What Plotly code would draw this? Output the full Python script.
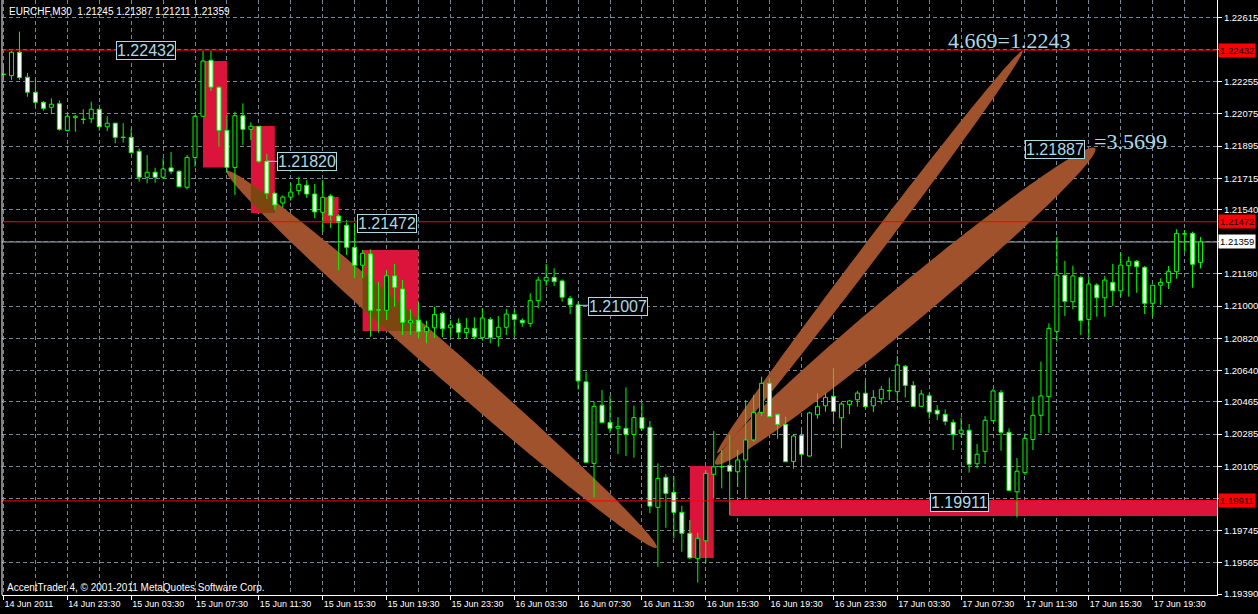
import math
import plotly.graph_objects as go

# ---------------- data (EURCHF, M30) ----------------
time_labels = ["14 Jun 2011", "14 Jun 23:30", "15 Jun 03:30", "15 Jun 07:30", "15 Jun 11:30",
               "15 Jun 15:30", "15 Jun 19:30", "15 Jun 23:30", "16 Jun 03:30", "16 Jun 07:30",
               "16 Jun 11:30", "16 Jun 15:30", "16 Jun 19:30", "16 Jun 23:30", "17 Jun 03:30",
               "17 Jun 07:30", "17 Jun 11:30", "17 Jun 15:30", "17 Jun 19:30"]

opens = [1.22298, 1.22289, 1.22420, 1.22280, 1.22196, 1.22140, 1.22112, 1.22132, 1.21983, 1.22054,
         1.22045, 1.22048, 1.22101, 1.22003, 1.22023, 1.21944, 1.21944, 1.21866, 1.21721, 1.21749,
         1.21721, 1.21773, 1.21754, 1.21665, 1.21832, 1.22062, 1.22375, 1.22224, 1.21983, 1.21776,
         1.22065, 1.21989, 1.22006, 1.21810, 1.21631, 1.21577, 1.21610, 1.21646, 1.21676, 1.21627,
         1.21525, 1.21616, 1.21504, 1.21452, 1.21329, 1.21229, 1.21292, 1.20979, 1.20977, 1.21169,
         1.21096, 1.20907, 1.20922, 1.20857, 1.20879, 1.20960, 1.20879, 1.20904, 1.20852, 1.20876,
         1.20824, 1.20926, 1.20829, 1.20882, 1.20954, 1.20921, 1.20904, 1.21031, 1.21142, 1.21161,
         1.21141, 1.21044, 1.21007, 1.20577, 1.20121, 1.20446, 1.20350, 1.20317, 1.20317, 1.20283,
         1.20377, 1.20323, 1.19875, 1.20043, 1.19959, 1.19847, 1.19730, 1.19588, 1.19688, 1.20060,
         1.20102, 1.20110, 1.20074, 1.20140, 1.20252, 1.20406, 1.20569, 1.20395, 1.20339, 1.20132,
         1.20278, 1.20162, 1.20393, 1.20443, 1.20496, 1.20376, 1.20451, 1.20477, 1.20513, 1.20443,
         1.20482, 1.20527, 1.20522, 1.20664, 1.20557, 1.20440, 1.20499, 1.20418, 1.20395, 1.20350,
         1.20289, 1.20306, 1.20119, 1.20188, 1.20360, 1.20518, 1.20295, 1.19962, 1.20069, 1.20255,
         1.20390, 1.20494, 1.20859, 1.21173, 1.21025, 1.21161, 1.20926, 1.21118, 1.21047, 1.21133,
         1.21086, 1.21226, 1.21251, 1.21217, 1.21016, 1.21117, 1.21133, 1.21193, 1.21404, 1.21407,
         1.21245]
highs = [1.22350, 1.22427, 1.22535, 1.22304, 1.22269, 1.22147, 1.22162, 1.22151, 1.22078, 1.22069,
         1.22101, 1.22143, 1.22105, 1.22063, 1.22023, 1.22023, 1.21992, 1.21883, 1.21845, 1.21774,
         1.21827, 1.21862, 1.21760, 1.21845, 1.22069, 1.22428, 1.22428, 1.22230, 1.22069, 1.22087,
         1.22134, 1.22028, 1.22006, 1.21851, 1.21640, 1.21620, 1.21689, 1.21724, 1.21705, 1.21683,
         1.21705, 1.21627, 1.21515, 1.21482, 1.21465, 1.21314, 1.21318, 1.21137, 1.21202, 1.21236,
         1.21146, 1.20982, 1.21022, 1.20919, 1.20997, 1.20969, 1.20922, 1.20932, 1.20934, 1.20938,
         1.20988, 1.20938, 1.20945, 1.20984, 1.20978, 1.20932, 1.21072, 1.21165, 1.21236, 1.21212,
         1.21150, 1.21057, 1.21025, 1.20633, 1.20468, 1.20531, 1.20498, 1.20380, 1.20546, 1.20443,
         1.20459, 1.20358, 1.20121, 1.20061, 1.20050, 1.19884, 1.19804, 1.19733, 1.20084, 1.20302,
         1.20196, 1.20280, 1.20196, 1.20475, 1.20503, 1.20606, 1.20597, 1.20400, 1.20382, 1.20285,
         1.20317, 1.20410, 1.20513, 1.20513, 1.20653, 1.20466, 1.20475, 1.20527, 1.20583, 1.20531,
         1.20554, 1.20600, 1.20721, 1.20671, 1.20581, 1.20531, 1.20513, 1.20447, 1.20423, 1.20367,
         1.20377, 1.20341, 1.20229, 1.20386, 1.20537, 1.20531, 1.20317, 1.20151, 1.20289, 1.20494,
         1.20690, 1.20904, 1.21388, 1.21253, 1.21226, 1.21170, 1.21165, 1.21128, 1.21169, 1.21236,
         1.21299, 1.21277, 1.21258, 1.21225, 1.21120, 1.21156, 1.21225, 1.21430, 1.21426, 1.21416,
         1.21387]
lows = [1.22265, 1.22265, 1.22265, 1.22171, 1.22112, 1.22093, 1.22073, 1.21981, 1.21978, 1.21976,
        1.22019, 1.22024, 1.21981, 1.21979, 1.21911, 1.21914, 1.21855, 1.21696, 1.21687, 1.21690,
        1.21709, 1.21739, 1.21665, 1.21653, 1.21780, 1.22058, 1.22203, 1.21892, 1.21745, 1.21622,
        1.21901, 1.21929, 1.21800, 1.21600, 1.21540, 1.21550, 1.21590, 1.21622, 1.21605, 1.21493,
        1.21415, 1.21437, 1.21202, 1.21286, 1.21157, 1.21157, 1.20829, 1.20852, 1.20922, 1.20997,
        1.20839, 1.20839, 1.20820, 1.20792, 1.20822, 1.20826, 1.20829, 1.20815, 1.20822, 1.20815,
        1.20807, 1.20792, 1.20773, 1.20839, 1.20829, 1.20885, 1.20885, 1.20988, 1.21113, 1.21113,
        1.21025, 1.20956, 1.20535, 1.20123, 1.19931, 1.20345, 1.20292, 1.20173, 1.20162, 1.20153,
        1.20307, 1.19842, 1.19543, 1.19761, 1.19702, 1.19627, 1.19586, 1.19454, 1.19562, 1.19925,
        1.19981, 1.19832, 1.19990, 1.19925, 1.20242, 1.20386, 1.20380, 1.20259, 1.20129, 1.20091,
        1.20130, 1.20158, 1.20371, 1.20410, 1.20345, 1.20205, 1.20397, 1.20438, 1.20430, 1.20408,
        1.20451, 1.20475, 1.20471, 1.20490, 1.20436, 1.20436, 1.20371, 1.20363, 1.20335, 1.20196,
        1.20267, 1.20069, 1.20093, 1.20117, 1.20355, 1.20192, 1.19966, 1.19819, 1.20056, 1.20196,
        1.20289, 1.20292, 1.20801, 1.20945, 1.20982, 1.20839, 1.20826, 1.20941, 1.20941, 1.21001,
        1.21053, 1.21053, 1.21075, 1.20956, 1.20941, 1.21007, 1.21096, 1.21154, 1.21305, 1.21103,
        1.21211]
closes = [1.22295, 1.22420, 1.22278, 1.22196, 1.22140, 1.22106, 1.22129, 1.21989, 1.22062, 1.22062,
          1.22045, 1.22101, 1.22003, 1.22023, 1.21944, 1.21944, 1.21858, 1.21721, 1.21749, 1.21721,
          1.21767, 1.21754, 1.21668, 1.21832, 1.22062, 1.22371, 1.22225, 1.21983, 1.21776, 1.22065,
          1.21989, 1.22006, 1.21810, 1.21631, 1.21566, 1.21610, 1.21638, 1.21681, 1.21627, 1.21527,
          1.21609, 1.21508, 1.21467, 1.21329, 1.21229, 1.21296, 1.20977, 1.20979, 1.21170, 1.21106,
          1.20910, 1.20921, 1.20857, 1.20883, 1.20954, 1.20874, 1.20895, 1.20854, 1.20876, 1.20829,
          1.20934, 1.20824, 1.20882, 1.20956, 1.20926, 1.20907, 1.21031, 1.21146, 1.21161, 1.21137,
          1.21050, 1.21007, 1.20582, 1.20127, 1.20440, 1.20350, 1.20317, 1.20328, 1.20283, 1.20377,
          1.20317, 1.19882, 1.20037, 1.19953, 1.19847, 1.19730, 1.19593, 1.19702, 1.20065, 1.20102,
          1.20102, 1.20077, 1.20140, 1.20252, 1.20406, 1.20569, 1.20382, 1.20339, 1.20130, 1.20274,
          1.20172, 1.20403, 1.20440, 1.20490, 1.20412, 1.20453, 1.20470, 1.20514, 1.20438, 1.20490,
          1.20535, 1.20527, 1.20671, 1.20557, 1.20440, 1.20509, 1.20408, 1.20397, 1.20356, 1.20283,
          1.20307, 1.20116, 1.20172, 1.20362, 1.20526, 1.20295, 1.19970, 1.20077, 1.20261, 1.20390,
          1.20498, 1.20876, 1.21173, 1.21027, 1.21169, 1.20919, 1.21124, 1.21047, 1.21146, 1.21086,
          1.21230, 1.21251, 1.21221, 1.21016, 1.21117, 1.21133, 1.21195, 1.21407, 1.21404, 1.21234,
          1.21359]

ytick_vals = [1.19390, 1.19565, 1.19745, 1.19925, 1.20105, 1.20285, 1.20465, 1.20640, 1.20820,
              1.21000, 1.21180, 1.21360, 1.21540, 1.21715, 1.21895, 1.22075, 1.22255, 1.22435, 1.22615]
ytick_text = ["1.19390", "1.19565", "1.19745", "", "1.20105", "1.20285", "1.20465", "1.20640", "1.20820",
              "1.21000", "1.21180", "", "1.21540", "1.21715", "1.21895", "1.22075", "1.22255", "", "1.22615"]

# horizontal line objects and price labels
red_levels = [1.22432, 1.21472, 1.19911]
bid_price = 1.21359

# rectangle objects: (bar from, bar to, price low, price high)
rects = [(25, 28, 1.21776, 1.22371),
         (31, 34, 1.21521, 1.22007),
         (40, 42, 1.21465, 1.21610),
         (45, 52, 1.20861, 1.21314),
         (86, 89, 1.19592, 1.20106),
         (91, 160, 1.19827, 1.19916)]

# ellipse objects: (start bar, start price, end bar, end price, half-width px)
ellipses = [(28.0, 1.21755, 81.85, 1.19649, 15),
            (89.45, 1.20179, 127.7, 1.22428, 8.5),
            (89.2, 1.20117, 136.8, 1.21884, 19)]

# boxed price labels: (text, bar of left edge, price)
boxed_labels = [("1.22432", 14.06, 1.22430),
                ("1.21820", 34.3, 1.21810),
                ("1.21472", 44.3, 1.21465),
                ("1.21007", 73.3, 1.20998),
                ("1.21887", 128.06, 1.21876),
                ("1.19911", 116.06, 1.19902)]

# ---------------- geometry ----------------
W, H = 1258, 614
ML, MR, MT, MB = 2, 38, 0, 19
PW, PH = W - ML - MR, H - MT - MB
PX_BAR = 8.0
X0 = -1.5 / PX_BAR
X1 = X0 + PW / PX_BAR
Y0, Y1 = 1.19385, 1.22712
PX_PRICE = PH / (Y1 - Y0)

GREEN = "#00FF00"
CRIMSON = "#DC143C"
SIENNA = "#A0522D"
XOR_COL = "rgb(124,70,17)"
LBLUE = "#ADD8E6"
GRID = "#778899"

n = len(opens)
idx = list(range(n))

fig = go.Figure()

# wicks (drawn as upper and lower segments so hollow bodies stay black)
wx, wy = [], []
for i in idx:
    top = max(opens[i], closes[i])
    bot = min(opens[i], closes[i])
    wx += [i, i, None, i, i, None]
    wy += [highs[i], top, None, bot, lows[i], None]
fig.add_trace(go.Scatter(x=wx, y=wy, mode="lines", line=dict(color=GREEN, width=1),
                         hoverinfo="skip", showlegend=False))

# bodies
min_h = 0.00002
bases, heights, fills = [], [], []
for i in idx:
    o, c = opens[i], closes[i]
    if abs(c - o) < 1e-9:
        bases.append(o - min_h / 2)
        heights.append(min_h)
        fills.append(GREEN)
    else:
        bases.append(min(o, c))
        heights.append(abs(c - o))
        fills.append("#000000" if c > o else "#FFFFFF")
fig.add_trace(go.Bar(x=idx, y=heights, base=bases, width=0.5,
                     marker=dict(color=fills, line=dict(color=GREEN, width=1)),
                     hoverinfo="skip", showlegend=False))


# ---------------- shapes ----------------
def ellipse_pts(b1, p1, b2, p2, half_px, m=160):
    x1, y1 = b1 * PX_BAR, p1 * PX_PRICE
    x2, y2 = b2 * PX_BAR, p2 * PX_PRICE
    cx, cy = (x1 + x2) / 2, (y1 + y2) / 2
    ux, uy = (x2 - x1) / 2, (y2 - y1) / 2
    L = math.hypot(ux, uy)
    vx, vy = -uy / L * half_px, ux / L * half_px
    pts = []
    for k in range(m):
        t = 2 * math.pi * k / m
        px = cx + ux * math.cos(t) + vx * math.sin(t)
        py = cy + uy * math.cos(t) + vy * math.sin(t)
        pts.append((px / PX_BAR, py / PX_PRICE))
    return pts


def clip_poly(pts, xmin, xmax, ymin, ymax):
    def edge(poly, inside, inter):
        out = []
        for j in range(len(poly)):
            cur, prev = poly[j], poly[j - 1]
            if inside(cur):
                if not inside(prev):
                    out.append(inter(prev, cur))
                out.append(cur)
            elif inside(prev):
                out.append(inter(prev, cur))
        return out

    def ix(xc):
        return lambda p, q: (xc, p[1] + (q[1] - p[1]) * (xc - p[0]) / (q[0] - p[0]))

    def iy(yc):
        return lambda p, q: (p[0] + (q[0] - p[0]) * (yc - p[1]) / (q[1] - p[1]), yc)

    for ins, inter in [(lambda p: p[0] >= xmin, ix(xmin)), (lambda p: p[0] <= xmax, ix(xmax)),
                       (lambda p: p[1] >= ymin, iy(ymin)), (lambda p: p[1] <= ymax, iy(ymax))]:
        if not pts:
            return pts
        pts = edge(pts, ins, inter)
    return pts


def to_path(pts):
    return "M " + " L ".join(f"{x:.4f},{y:.6f}" for x, y in pts) + " Z"


shapes = []
for (xa, xb, ya, yb) in rects:
    shapes.append(dict(type="rect", xref="x", yref="y", x0=xa, x1=xb, y0=ya, y1=yb,
                       fillcolor=CRIMSON, line=dict(width=0), layer="between"))
ell_polys = []
for (b1, p1, b2, p2, hw) in ellipses:
    pts = ellipse_pts(b1, p1, b2, p2, hw)
    ell_polys.append(pts)
    shapes.append(dict(type="path", xref="x", yref="y", path=to_path(pts),
                       fillcolor=SIENNA, line=dict(width=0), layer="between"))
# XOR-like overlap of background objects
for pts in ell_polys:
    for (xa, xb, ya, yb) in rects:
        cp = clip_poly(pts, xa, xb, ya, yb)
        if len(cp) >= 3:
            shapes.append(dict(type="path", xref="x", yref="y", path=to_path(cp),
                               fillcolor=XOR_COL, line=dict(width=0), layer="between"))

# bid line
shapes.append(dict(type="line", xref="paper", yref="y", x0=0, x1=1, y0=bid_price, y1=bid_price,
                   line=dict(color="#A9B2BC", width=1), layer="between"))
# red horizontal lines
for lv in red_levels:
    shapes.append(dict(type="line", xref="paper", yref="y", x0=0, x1=1, y0=lv, y1=lv,
                       line=dict(color="#FF0000", width=1), layer="above"))
# connector lines of two price labels
shapes.append(dict(type="line", xref="x", yref="y", x0=33, x1=34.3, y0=1.21810, y1=1.21810,
                   line=dict(color=LBLUE, width=1), layer="above"))
shapes.append(dict(type="line", xref="x", yref="y", x0=72, x1=73.3, y0=1.21005, y1=1.21005,
                   line=dict(color=LBLUE, width=1), layer="above"))
# left frame line
shapes.append(dict(type="line", xref="paper", yref="paper", x0=0, x1=0, y0=0, y1=1,
                   line=dict(color="#FFFFFF", width=1), layer="above"))

# ---------------- annotations ----------------
ann = []
for (txt, bx, pr) in boxed_labels:
    ann.append(dict(text=txt, x=bx, y=pr, xref="x", yref="y", xanchor="left", yanchor="middle",
                    showarrow=False, font=dict(family="Liberation Sans", size=16, color=LBLUE),
                    bgcolor="#000000", bordercolor=LBLUE, borderwidth=1, borderpad=0))
ann.append(dict(text="4.669=1.2243", x=125.95, y=1.22486, xref="x", yref="y", xanchor="center",
                yanchor="middle", showarrow=False,
                font=dict(family="Liberation Serif", size=22, color=LBLUE)))
ann.append(dict(text="=3.5699", x=136.4, y=1.21921, xref="x", yref="y", xanchor="left",
                yanchor="middle", showarrow=False,
                font=dict(family="Liberation Serif", size=22, color=LBLUE)))

# right-axis price tags
for lv in red_levels:
    ann.append(dict(text=f"{lv:.5f}", x=1, y=lv, xref="paper", yref="y", xanchor="left",
                    yanchor="middle", xshift=1, showarrow=False, bgcolor="#FF0000", borderpad=1,
                    font=dict(family="Liberation Sans", size=9.5, color="#000000")))
ann.append(dict(text=f"{bid_price:.5f}", x=1, y=bid_price, xref="paper", yref="y", xanchor="left",
                yanchor="middle", xshift=1, showarrow=False, bgcolor="#FFFFFF", borderpad=1,
                font=dict(family="Liberation Sans", size=9.5, color="#000000")))

header = "EURCHF,M30\u00a0 " + " ".join(f"{v:.5f}" for v in (opens[-1], highs[-1], lows[-1], closes[-1]))
ann.append(dict(text=header, x=5 / PW, y=1 - 11 / PH, xref="paper", yref="paper", xanchor="left",
                yanchor="middle", showarrow=False,
                font=dict(family="Liberation Sans", size=10, color="#FFFFFF")))
ann.append(dict(text="AccentTrader 4, \u00a9 2001-2011 MetaQuotes Software Corp.", x=3 / PW,
                y=1 - 587 / PH, xref="paper", yref="paper", xanchor="left", yanchor="middle",
                showarrow=False, font=dict(family="Liberation Sans", size=10, color="#FFFFFF")))

fig.update_layout(
    width=W, height=H,
    margin=dict(l=ML, r=MR, t=MT, b=MB, pad=0),
    paper_bgcolor="#000000", plot_bgcolor="#000000",
    barmode="overlay", showlegend=False, hovermode=False,
    shapes=shapes, annotations=ann,
    xaxis=dict(range=[X0, X1], tickmode="array", tickvals=list(range(0, n, 8)), ticktext=time_labels,
               ticks="outside", ticklen=4, tickcolor="#FFFFFF", ticklabelposition="outside right",
               tickfont=dict(family="Liberation Sans", size=9, color="#FFFFFF"),
               showline=True, linecolor="#FFFFFF", linewidth=1, zeroline=False,
               showgrid=True, gridcolor=GRID, gridwidth=1, griddash="4px,3px",
               minor=dict(tickvals=list(range(4, n, 8)), ticks="", showgrid=True, gridcolor=GRID,
                          gridwidth=1, griddash="4px,3px"),
               fixedrange=True),
    yaxis=dict(range=[Y0, Y1], side="right", tickmode="array", tickvals=ytick_vals, ticktext=ytick_text,
               ticks="outside", ticklen=4, tickcolor="#FFFFFF",
               tickfont=dict(family="Liberation Sans", size=9.5, color="#FFFFFF"),
               showline=True, linecolor="#FFFFFF", linewidth=1, zeroline=False,
               showgrid=True, gridcolor=GRID, gridwidth=1, griddash="4px,3px", fixedrange=True),
)

fig.write_html("out.html", config={"displayModeBar": False},
               post_script="document.body.style.margin='0px';document.body.style.background='#000';")
